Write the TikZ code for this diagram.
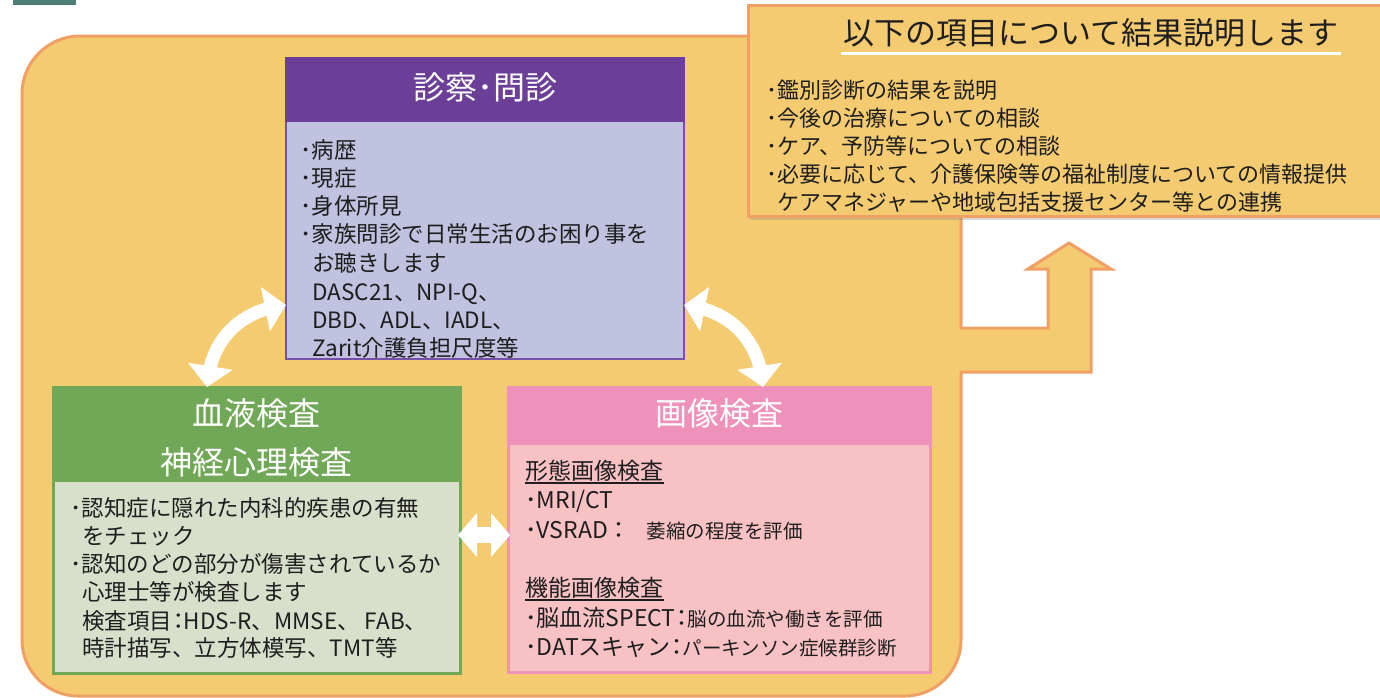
\documentclass[tikz,border=0pt]{standalone}
\usepackage{fontspec}
\setmainfont{Noto Sans CJK JP}
\usetikzlibrary{arrows.meta,bending,shadows,calc}
\definecolor{yel}{HTML}{F4CB70}
\definecolor{org}{HTML}{F0A064}
\definecolor{teal}{HTML}{4F7E76}
\definecolor{purH}{HTML}{6B3F98}
\definecolor{purB}{HTML}{C1C1E0}
\definecolor{purL}{HTML}{7651A7}
\definecolor{grnH}{HTML}{71A857}
\definecolor{grnB}{HTML}{D8E0CC}
\definecolor{pnkH}{HTML}{EE92BC}
\definecolor{pnkB}{HTML}{F8C1C4}
\definecolor{txt}{HTML}{1E1E1E}
\begin{document}
\begin{tikzpicture}[x=0.5pt,y=-0.5pt,
  box/.style={rectangle, inner sep=0pt, outer sep=0pt, anchor=north west},
  ttl/.style={inner sep=0pt, text=white, font=\fontsize{16pt}{16pt}\selectfont, text height=14.1pt, text depth=1.9pt},
  ln/.style={anchor=west, inner sep=0pt, text=txt},
  bt/.style={ln, font=\fontsize{11.25pt}{14pt}\selectfont, text height=9.9pt, text depth=1.35pt},
  pt/.style={ln, font=\fontsize{11.5pt}{14pt}\selectfont, text height=10.1pt, text depth=1.4pt},
  rl/.style={ln, font=\fontsize{11pt}{14pt}\selectfont, text height=9.7pt, text depth=1.3pt},
  warrow/.style={draw=white, line width=6.5pt, {Triangle[width=22pt,length=10.5pt]}-{Triangle[width=22pt,length=10.5pt]}},
  harrow/.style={draw=white, line width=8pt, {Triangle[width=21.5pt,length=9.5pt]}-{Triangle[width=21.5pt,length=9.5pt]}},
  uline/.style={draw=txt, line width=0.7pt}
]
\newcommand{\sm}{\fontsize{9.75pt}{12pt}\selectfont}
\newcommand{\ncol}{\hspace{-2.5pt}：\hspace{-3pt}}
\useasboundingbox (0,0) rectangle (1380,697);

% small teal tab
\fill[teal] (13,0) rectangle (76,5);

% main background shape with arrow
\draw[fill=yel, draw=org, line width=1.5pt, line join=miter]
  (22,300) [rounded corners=29pt] -- (22,36) -- (500,36) [sharp corners] -- (961,36)
  -- (961,328) -- (1048,328) -- (1048,269) -- (1028,269) -- (1069,243) -- (1111,269)
  -- (1091,269) -- (1091,372) -- (961,372) -- (961,500) [rounded corners=28pt]
  -- (961,696) -- (500,696) -- (22,696) -- cycle;

% result box
\node[box, fill=yel, draw=org, line width=1.5pt, minimum width=318pt, minimum height=105.5pt,
  drop shadow={opacity=0.3, shadow xshift=0.8pt, shadow yshift=-1.8pt}] (rb) at (748,5) {};
\node[inner sep=0pt, text=txt, font=\fontsize{15.5pt}{16pt}\selectfont, text height=13.6pt, text depth=1.9pt] (rt) at (1091,33) {以下の項目について結果説明します};
\draw[white, line width=1.5pt] ($(rt.south west)+(-2,5)$) -- ($(rt.south east)+(2,5)$);
\node[rl] (r1) at (766,90) {･鑑別診断の結果を説明};
\node[rl] (r2) at (766,118) {･今後の治療についての相談};
\node[rl] (r3) at (766,146) {･ケア、予防等についての相談};
\node[rl] (r4) at (766,174) {･必要に応じて、介護保険等の福祉制度についての情報提供};
\node[rl] (r5) at (777,202) {ケアマネジャーや地域包括支援センター等との連携};

% purple box
\node[box, fill=purB, draw=purL, line width=1pt, minimum width=199pt, minimum height=119pt] (pb) at (286,121) {};
\node[box, fill=purH, draw=purH, line width=1pt, minimum width=199pt, minimum height=31.5pt] (ph) at (286,58) {};
\node[ttl] (pt) at (485,87) {診察･問診};
\node[bt] (p1) at (300,150) {･病歴};
\node[bt] (p2) at (300,177.5) {･現症};
\node[bt] (p3) at (300,205.5) {･身体所見};
\node[bt] (p4) at (300,234) {･家族問診で日常生活のお困り事を};
\node[bt] (p5) at (312,262.5) {お聴きします};
\node[bt] (p6) at (312,292) {DASC21、NPI-Q、};
\node[bt] (p7) at (312,320) {DBD、ADL、IADL、};
\node[bt] (p8) at (312,348) {Zarit介護負担尺度等};

% green box
\node[box, fill=grnB, draw=grnH, line width=1.5pt, minimum width=203.5pt, minimum height=96.5pt] (gb) at (53,480) {};
\node[box, fill=grnH, draw=grnH, line width=1.5pt, minimum width=203.5pt, minimum height=46.5pt] (gh) at (53,387) {};
\node[ttl] (gt1) at (256.5,413) {血液検査};
\node[ttl] (gt2) at (256.5,462) {神経心理検査};
\node[bt] (g1) at (70,508) {･認知症に隠れた内科的疾患の有無};
\node[bt] (g2) at (82,536) {をチェック};
\node[bt] (g3) at (70,564) {･認知のどの部分が傷害されているか};
\node[bt] (g4) at (82,592) {心理士等が検査します};
\node[bt] (g5) at (82,621) {検査項目\ncol HDS-R、MMSE、 FAB、};
\node[bt] (g6) at (82,648) {時計描写、立方体模写、TMT等};

% pink box
\node[box, fill=pnkB, draw=pnkH, line width=1.5pt, minimum width=211pt, minimum height=114.5pt] (kb) at (508,443) {};
\node[box, fill=pnkH, draw=pnkH, line width=1.5pt, minimum width=211pt, minimum height=28pt] (kh) at (508,387) {};
\node[ttl] (kt) at (719,413) {画像検査};
\node[pt] (k1) at (525,471) {形態画像検査};
\draw[uline] (k1.south west) -- (k1.south east);
\node[pt] (k2) at (525,500) {･MRI/CT};
\node[pt] (k3) at (525,530) {･VSRAD：\hspace{8pt}{\sm 萎縮の程度を評価}};
\node[pt] (k4) at (525,588) {機能画像検査};
\draw[uline] (k4.south west) -- (k4.south east);
\node[pt] (k5) at (525,618) {･脳血流SPECT\ncol{\sm 脳の血流や働きを評価}};
\node[pt] (k6) at (525,647) {･DATスキャン\ncol{\sm パーキンソン症候群診断}};

% connectors
\draw[warrow] ($(gh.north west)+(154,0)$) .. controls +(3,-47) and +(-46,5) .. ($(pb.north west)+(0,184)$);
\draw[warrow] ($(kh.north west)+(255,0)$) .. controls +(-3,-47) and +(46,5) .. ($(pb.north east)+(0,184)$);
\draw[harrow] ($(gb.north east)+(-2,55)$) -- ($(kb.north west)+(2,92)$);
\end{tikzpicture}
\end{document}
